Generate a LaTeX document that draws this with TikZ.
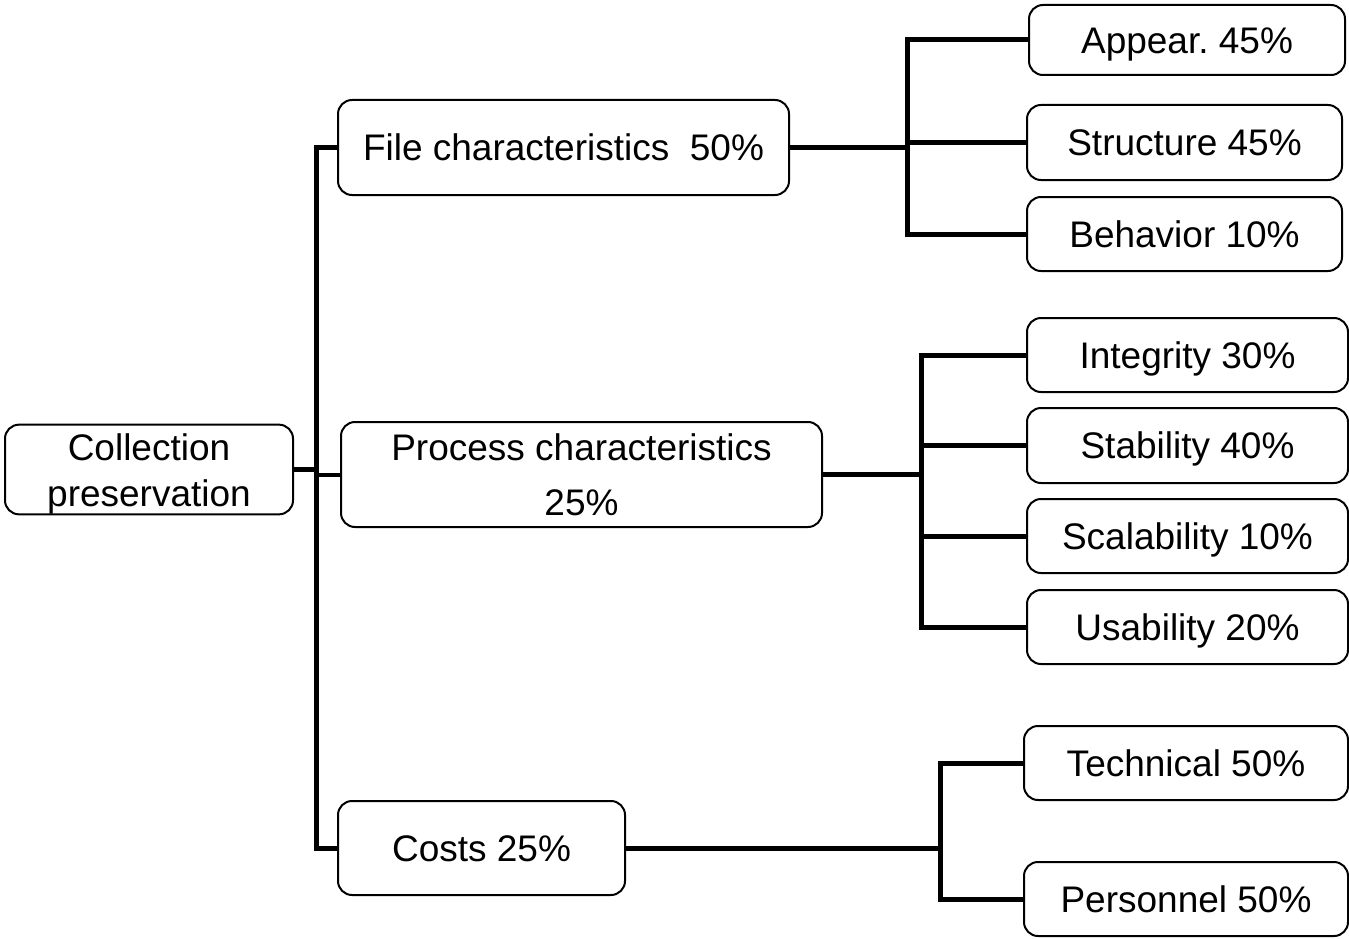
\documentclass[tikz,border=0pt]{standalone}
\usepackage{fontspec}
\setmainfont{Liberation Sans}
\frenchspacing
\begin{document}
\begin{tikzpicture}[x=1pt,y=-1pt,
  box/.style={draw, line width=2pt, rounded corners=14pt, inner sep=0pt, align=center,
    font=\fontsize{37}{46}\selectfont},
  one/.style={box, text height=26.5pt, text depth=0pt},
  conn/.style={draw, line width=5pt, line join=miter, line cap=butt}]
\useasboundingbox (0,0) rectangle (1349,939);
% level 0
\node[box, minimum width=288pt, minimum height=89pt] (root) at (149,469.5) {\rule{0pt}{36pt}Collection\\preservation};
% level 1
\node[one, minimum width=451pt, minimum height=95pt] (file) at (563.5,147.5) {File characteristics\ \ 50\%};
\node[box, minimum width=481pt, minimum height=105pt, font=\fontsize{37}{55}\selectfont] (proc) at (581.5,474.5) {Process characteristics\\25\%};
\node[one, minimum width=287pt, minimum height=94pt] (costs) at (481.5,848) {Costs 25\%};
% level 2
\node[one, minimum width=316pt, minimum height=70pt] (app) at (1187,40) {Appear. 45\%};
\node[one, minimum width=315pt, minimum height=75pt] (str) at (1184.5,142.5) {Structure 45\%};
\node[one, minimum width=315pt, minimum height=74pt] (beh) at (1184.5,234) {Behavior 10\%};
\node[one, minimum width=321pt, minimum height=74pt] (int) at (1187.5,355) {Integrity 30\%};
\node[one, minimum width=321pt, minimum height=75pt] (sta) at (1187.5,445.5) {Stability 40\%};
\node[one, minimum width=321pt, minimum height=74pt] (sca) at (1187.5,536) {Scalability 10\%};
\node[one, minimum width=321pt, minimum height=74pt] (usa) at (1187.5,627) {Usability 20\%};
\node[one, minimum width=324pt, minimum height=74pt] (tec) at (1186,763) {Technical 50\%};
\node[one, minimum width=324pt, minimum height=74pt] (per) at (1186,899) {Personnel 50\%};
% junctions
\coordinate (tj) at (316,469.5);
\coordinate (fj) at (907,147.5);
\coordinate (pj) at (921,474.5);
\coordinate (cj) at (940,848);
% trunk
\draw[conn] (root.east) -- (tj);
\draw[conn] (file.west) -- (file.west -| tj) -- (costs.west -| tj) -- (costs.west);
\draw[conn, line width=4pt] (tj |- proc.west) -- (proc.west);
% file branch
\draw[conn] (file.east) -- (fj);
\draw[conn] (app.west) -- (app.west -| fj) -- (beh.west -| fj) -- (beh.west);
\draw[conn] (str.west) -- (str.west -| fj);
% process branch
\draw[conn] (proc.east) -- (pj);
\draw[conn] (int.west) -- (int.west -| pj) -- (usa.west -| pj) -- (usa.west);
\draw[conn] (sta.west) -- (sta.west -| pj);
\draw[conn] (sca.west) -- (sca.west -| pj);
% costs branch
\draw[conn] (costs.east) -- (cj);
\draw[conn] (tec.west) -- (tec.west -| cj) -- (per.west -| cj) -- (per.west);
\end{tikzpicture}
\end{document}
